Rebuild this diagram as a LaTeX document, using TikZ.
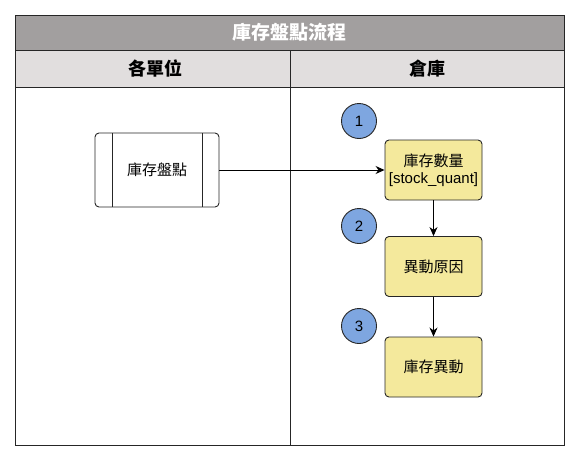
\documentclass[tikz,border=0pt]{standalone}
\usepackage{fontspec}
\setmainfont{Liberation Sans}
\newfontfamily\cjk{Noto Sans CJK TC}
\usetikzlibrary{arrows.meta}
\definecolor{titlegray}{HTML}{A29F9F}
\definecolor{headgray}{HTML}{E1DEDE}
\definecolor{boxyellow}{HTML}{F4E99C}
\definecolor{circblue}{HTML}{7EA6E0}
\begin{document}
\begin{tikzpicture}[x=1pt,y=-1pt,
  lane/.style={draw=black!85,line width=1pt},
  proc/.style={draw=black!85,line width=0.9pt,fill=boxyellow,rounded corners=4pt,minimum width=97pt,minimum height=60pt,align=center,font=\fontsize{15}{17}\selectfont,inner sep=0pt},
  num/.style={circle,draw=black!85,line width=0.9pt,fill=circblue,minimum size=35pt,inner sep=0pt,font=\fontsize{15}{17}\selectfont},
  flow/.style={-{Stealth[length=9pt,width=8pt]},line width=0.9pt}]
\useasboundingbox (0,0) rectangle (580,455);
% frame
\fill[titlegray] (15,15) rectangle (564,50);
\fill[headgray] (15,50) rectangle (564,87);
\draw[lane] (15,15) rectangle (564,445);
\draw[lane] (15,50) -- (564,50);
\draw[lane] (15,87) -- (564,87);
\draw[lane] (290,50) -- (290,445);
\node[text=white,font=\cjk\bfseries\fontsize{19}{21}\selectfont] (title) at (289.5,32.5) {庫存盤點流程};
\node[font=\cjk\bfseries\fontsize{18}{20}\selectfont] (laneA) at (155,68.5) {各單位};
\node[font=\cjk\bfseries\fontsize{18}{20}\selectfont] (laneB) at (427,68.5) {倉庫};
% left predefined process
\node[draw=black!85,line width=0.9pt,fill=white,rounded corners=4pt,minimum width=124pt,minimum height=74pt,inner sep=0pt,font=\cjk\fontsize{15}{17}\selectfont] (count) at (157,170) {庫存盤點};
\draw[black!85,line width=0.9pt] (112,133) -- (112,207);
\draw[black!85,line width=0.9pt] (202,133) -- (202,207);
% right lane
\node[proc] (qty) at (433.5,170) {{\cjk 庫存數量}\\{}[stock\_quant]};
\node[proc] (reason) at (433.5,266.5) {\cjk 異動原因};
\node[proc] (move) at (433.5,367) {\cjk 庫存異動};
\node[num] (n1) at (359,121) {1};
\node[num] (n2) at (359,226) {2};
\node[num] (n3) at (359,326) {3};
\draw[flow] (count.east) -- (qty.west);
\draw[flow] (qty.south) -- (reason.north);
\draw[flow] (reason.south) -- (move.north);
\end{tikzpicture}
\end{document}
